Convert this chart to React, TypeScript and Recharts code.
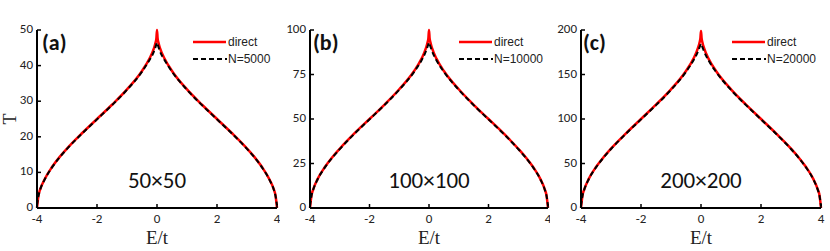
import React from 'react';
import { LineChart, Line, XAxis, YAxis } from 'recharts';

const energy = [-4, -3.95, -3.9, -3.75, -3.5, -3.25, -3, -2.5, -2, -1.5, -1, -0.5, -0.25, -0.1, -0.05, -0.02, 0, 0.02, 0.05, 0.1, 0.25, 0.5, 1, 1.5, 2, 2.5, 3, 3.25, 3.5, 3.75, 3.9, 3.95, 4];
const xTicks = [-4, -2, 0, 2, 4];

const direct50 = [0, 3.6, 5.1, 8.0, 11.5, 14.3, 16.7, 21.0, 25.0, 29.0, 33.3, 38.5, 42.0, 44.9, 46.4, 47.7, 50, 47.7, 46.4, 44.9, 42.0, 38.5, 33.3, 29.0, 25.0, 21.0, 16.7, 14.3, 11.5, 8.0, 5.1, 3.6, 0];
const kpm50 = [0.8, 3.4, 5.0, 7.9, 11.4, 14.2, 16.6, 20.9, 24.9, 28.9, 33.2, 38.3, 41.6, 44.0, 45.2, 46.0, 46.5, 46.0, 45.2, 44.0, 41.6, 38.3, 33.2, 28.9, 24.9, 20.9, 16.6, 14.2, 11.4, 7.9, 5.0, 3.4, 0.8];

const direct100 = [0, 7.1, 10.1, 16.1, 23.0, 28.5, 33.3, 42.0, 50.0, 58.0, 66.7, 77.0, 83.9, 89.9, 92.9, 95.5, 100, 95.5, 92.9, 89.9, 83.9, 77.0, 66.7, 58.0, 50.0, 42.0, 33.3, 28.5, 23.0, 16.1, 10.1, 7.1, 0];
const kpm100 = [1.2, 6.9, 9.9, 15.9, 22.8, 28.3, 33.1, 41.8, 49.8, 57.8, 66.4, 76.5, 83.0, 88.2, 90.6, 92.0, 93.0, 92.0, 90.6, 88.2, 83.0, 76.5, 66.4, 57.8, 49.8, 41.8, 33.1, 28.3, 22.8, 15.9, 9.9, 6.9, 1.2];

const direct200 = [0, 14.3, 20.2, 32.2, 46.0, 57.0, 66.7, 83.9, 100, 116.1, 133.3, 154.0, 167.8, 179.8, 185.7, 191.0, 199, 191.0, 185.7, 179.8, 167.8, 154.0, 133.3, 116.1, 100, 83.9, 66.7, 57.0, 46.0, 32.2, 20.2, 14.3, 0];
const kpm200 = [2, 13.8, 19.8, 31.8, 45.6, 56.6, 66.3, 83.5, 99.6, 115.6, 132.7, 153.0, 166.0, 176.0, 180.5, 183.0, 184.5, 183.0, 180.5, 176.0, 166.0, 153.0, 132.7, 115.6, 99.6, 83.5, 66.3, 56.6, 45.6, 31.8, 19.8, 13.8, 2];

const yTicks50 = [0, 10, 20, 30, 40, 50];
const yTicks100 = [0, 25, 50, 75, 100];
const yTicks200 = [0, 50, 100, 150, 200];

const tickFont = 'Carlito, "Open Sans", "Liberation Sans", sans-serif';
const legendFont = '"Liberation Sans", Arial, sans-serif';
const serifFont = '"Liberation Serif", serif';
const frame = { stroke: '#000', strokeWidth: 2 };

const BottomTick = (p: any) => (
  <g>
    <line x1={p.x} y1={p.y} x2={p.x} y2={p.y - 4} stroke="#000" strokeWidth={1.5} />
    <text x={p.x} y={p.y + 15} textAnchor="middle" fontSize={13} fontFamily={tickFont} fill="#222">{p.payload.value}</text>
  </g>
);
const TopTick = (p: any) => (
  <line x1={p.x} y1={p.y} x2={p.x} y2={p.y + 4} stroke="#000" strokeWidth={1.5} />
);
const LeftTick = (p: any) => (
  <g>
    <line x1={p.x} y1={p.y} x2={p.x + 4} y2={p.y} stroke="#000" strokeWidth={1.5} />
    <text x={p.x - 4} y={p.y + 3} textAnchor="end" fontSize={13} fontFamily={tickFont} fill="#222">{p.payload.value}</text>
  </g>
);
const RightTick = (p: any) => (
  <line x1={p.x} y1={p.y} x2={p.x - 4} y2={p.y} stroke="#000" strokeWidth={1.5} />
);

interface PanelProps {
  left: number;
  width: number;
  yw: number;
  mr: number;
  yMax: number;
  yTicks: number[];
  direct: number[];
  kpm: number[];
}

function Panel({ left, width, yw, mr, yMax, yTicks, direct, kpm }: PanelProps) {
  const data = energy.map((e, i) => ({ e, direct: direct[i], kpm: kpm[i] }));
  return (
    <div style={{ position: 'absolute', left, top: 0 }}>
      <LineChart width={width} height={251} data={data} margin={{ top: 30, right: mr, bottom: 0, left: 0 }}>
        <XAxis dataKey="e" type="number" domain={[-4, 4]} ticks={xTicks} interval={0} height={43}
          tickSize={0} tickMargin={0} tickLine={false} axisLine={frame} tick={BottomTick} />
        <XAxis xAxisId="t" orientation="top" dataKey="e" type="number" domain={[-4, 4]} ticks={xTicks} interval={0} height={0}
          tickSize={0} tickMargin={0} tickLine={false} axisLine={frame} tick={TopTick} />
        <YAxis type="number" domain={[0, yMax]} ticks={yTicks} interval={0} width={yw}
          tickSize={0} tickMargin={0} tickLine={false} axisLine={frame} tick={LeftTick} />
        <YAxis yAxisId="r" orientation="right" type="number" domain={[0, yMax]} ticks={yTicks} interval={0} width={0}
          tickSize={0} tickMargin={0} tickLine={false} axisLine={frame} tick={RightTick} />
        <Line dataKey="direct" type="monotone" stroke="#ff0000" strokeWidth={2.5} dot={false} isAnimationActive={false} />
        <Line dataKey="kpm" type="monotone" stroke="#000" strokeWidth={2} strokeDasharray="5 3" dot={false} isAnimationActive={false} />
      </LineChart>
    </div>
  );
}

const panelLabels = ['(a)', '(b)', '(c)'];
const sizeLabels = ['50×50', '100×100', '200×200'];
const nLabels = ['N=5000', 'N=10000', 'N=20000'];
const labelX = [42, 313, 583];
const centerX = [157, 429, 701];
const legendX = [193, 459, 732];

export default function App() {
  return (
    <div style={{ position: 'absolute', left: 0, top: 0, width: 830, height: 251, background: '#fff', overflow: 'hidden' }}>
      <Panel left={0} width={280} yw={37} mr={3} yMax={50} yTicks={yTicks50} direct={direct50} kpm={kpm50} />
      <Panel left={280} width={270} yw={30} mr={2} yMax={100} yTicks={yTicks100} direct={direct100} kpm={kpm100} />
      <Panel left={550} width={280} yw={31} mr={9} yMax={200} yTicks={yTicks200} direct={direct200} kpm={kpm200} />
      <svg width={830} height={251} style={{ position: 'absolute', left: 0, top: 0, pointerEvents: 'none' }}>
        {panelLabels.map((l, i) => (
          <g key={l}>
            <text x={labelX[i]} y={50} fontSize={22} fontWeight={700} fontFamily={tickFont} fill="#111">{l}</text>
            <text x={centerX[i]} y={188} textAnchor="middle" fontSize={23} fontFamily={tickFont} fill="#111">{sizeLabels[i]}</text>
            <text x={centerX[i]} y={244} textAnchor="middle" fontSize={19} fontFamily={serifFont} fill="#222">E/t</text>
            <line x1={legendX[i]} y1={42} x2={legendX[i] + 33} y2={42} stroke="#ff0000" strokeWidth={2.5} />
            <text x={legendX[i] + 35} y={46} fontSize={12} fontFamily={legendFont} fill="#222">direct</text>
            <line x1={legendX[i]} y1={59} x2={legendX[i] + 34} y2={59} stroke="#000" strokeWidth={2} strokeDasharray="5 3" />
            <text x={legendX[i] + 35} y={63} fontSize={12} fontFamily={legendFont} fill="#222">{nLabels[i]}</text>
          </g>
        ))}
        <text x={16} y={119} textAnchor="middle" fontSize={18} fontFamily={serifFont} fill="#222" transform="rotate(-90 16 119)">T</text>
      </svg>
    </div>
  );
}
